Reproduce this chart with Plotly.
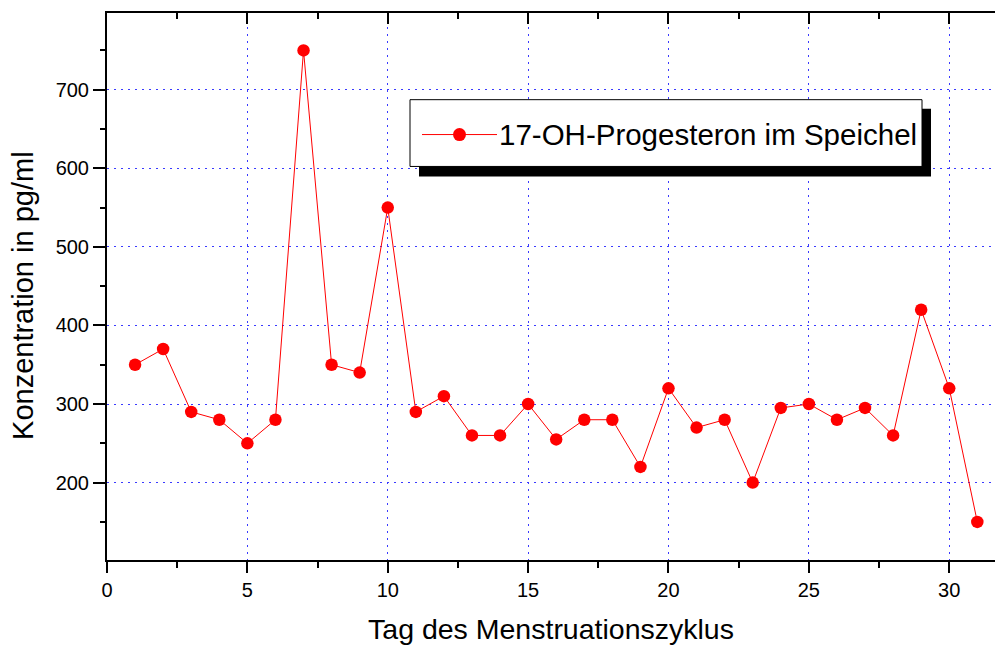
import plotly.graph_objects as go

# ---- data ----
days = list(range(1, 32))
concentration = [350, 370, 290, 280, 250, 280, 750, 350, 340, 550,
                 290, 310, 260, 260, 300, 255, 280, 280, 220, 320,
                 270, 280, 200, 295, 300, 280, 295, 260, 420, 320, 150]
series_name = "17-OH-Progesteron im Speichel"
x_title = "Tag des Menstruationszyklus"
y_title = "Konzentration in pg/ml"

W, H = 995, 645
L, R, T, B = 107, 0, 13, 83
PW, PH = W - L - R, H - T - B

def px(x):
    return (x - L) / PW

def py(y):
    return (H - B - y) / PH

FONT = "Liberation Sans, Arial, sans-serif"
XR = [0, 31.63]
YR = [101.5, 797.6]

fig = go.Figure()
fig.add_trace(go.Scatter(
    x=days, y=concentration, mode="lines+markers", name=series_name,
    line=dict(color="#ff0000", width=1),
    marker=dict(color="#ff0000", size=12.5, line=dict(width=0)),
    showlegend=False,
))

grid = dict(showgrid=True, gridcolor="#3a3aff", griddash="2px,5px", gridwidth=1)

fig.update_layout(
    width=W, height=H,
    margin=dict(l=L, r=R, t=T, b=B, pad=0),
    paper_bgcolor="white", plot_bgcolor="white",
    font=dict(family=FONT, color="black", size=20),
    xaxis=dict(
        range=XR, dtick=5, tick0=0, ticks="outside", ticklen=11, tickwidth=2,
        tickcolor="black", showline=True, linecolor="black", linewidth=2,
        zeroline=False, tickfont=dict(size=20),
        minor=dict(dtick=2.5, ticklen=6, tickwidth=2, tickcolor="black", ticks="outside", showgrid=False),
        title=dict(text=x_title, font=dict(size=28.5), standoff=24),
        **grid,
    ),
    xaxis2=dict(
        range=XR, dtick=5, tick0=0, ticks="inside", ticklen=11, tickwidth=2,
        tickcolor="black", showline=True, linecolor="black", linewidth=2,
        overlaying="x", side="top", anchor="y", showticklabels=False,
        showgrid=False, zeroline=False,
        minor=dict(dtick=2.5, ticklen=6, tickwidth=2, tickcolor="black", ticks="inside"),
    ),
    yaxis=dict(
        range=YR, dtick=100, tick0=0, ticks="outside", ticklen=12, tickwidth=2,
        tickcolor="black", showline=True, linecolor="black", linewidth=2,
        zeroline=False, tickfont=dict(size=20),
        minor=dict(dtick=50, ticklen=5, tickwidth=2, tickcolor="black", ticks="outside", showgrid=False),
        **grid,
    ),
)

# invisible trace to activate top axis
fig.add_trace(go.Scatter(x=[XR[0]], y=[YR[0]], xaxis="x2", mode="markers",
                         marker=dict(opacity=0), showlegend=False, hoverinfo="skip"))

# y axis title (placed as annotation to match the off-centre position)
fig.add_annotation(xref="paper", yref="paper", x=px(23), y=py(297), xanchor="center", yanchor="middle",
                   text=y_title, textangle=-90, showarrow=False, font=dict(size=29, color="black"))

# ---- legend box (drawn) ----
shapes = [
    dict(type="rect", xref="paper", yref="paper", x0=px(419), x1=px(931), y0=py(177), y1=py(109),
         fillcolor="black", line=dict(width=0), layer="above"),
    dict(type="rect", xref="paper", yref="paper", x0=px(410), x1=px(922), y0=py(167), y1=py(100),
         fillcolor="white", line=dict(color="black", width=1), layer="above"),
    dict(type="line", xref="paper", yref="paper", x0=px(422), x1=px(497), y0=py(135), y1=py(135),
         line=dict(color="#ff0000", width=1), layer="above"),
    dict(type="circle", xref="paper", yref="paper", x0=px(453), x1=px(466), y0=py(141.5), y1=py(128.5),
         fillcolor="#ff0000", line=dict(width=0), layer="above"),
]
fig.update_layout(shapes=shapes)
fig.add_annotation(xref="paper", yref="paper", x=px(497), y=py(135), xanchor="left", yanchor="middle",
                   text=series_name, showarrow=False, font=dict(size=29.5, color="black"))

fig.write_html("out.html")
